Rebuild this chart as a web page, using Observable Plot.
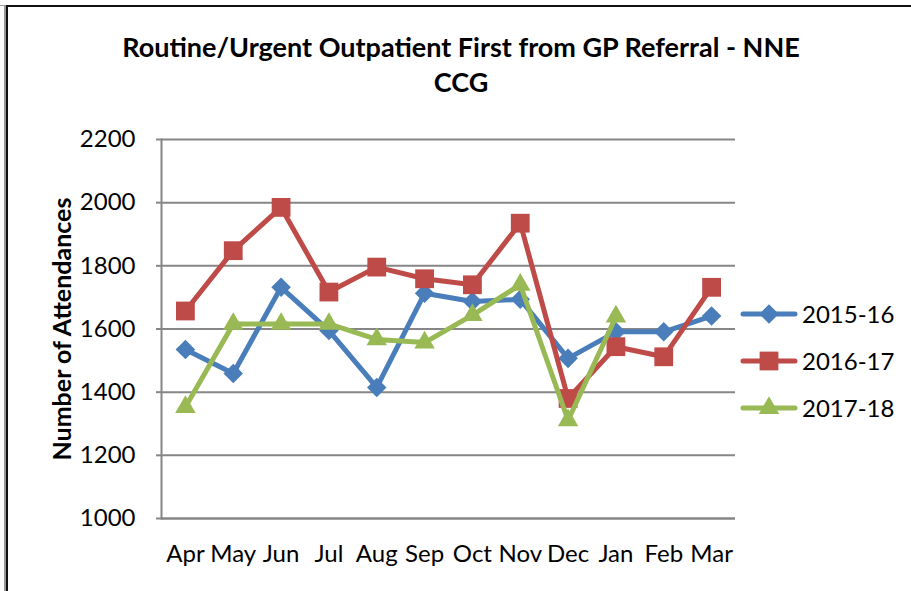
<!DOCTYPE html>
<html>
<head>
<meta charset="utf-8">
<script src="https://cdn.jsdelivr.net/npm/d3@7"></script>
<script src="https://cdn.jsdelivr.net/npm/@observablehq/plot@0.6"></script>
<style>
  html, body { margin: 0; padding: 0; background: #fff; }
  #page { position: relative; width: 911px; height: 591px; overflow: hidden; font-family: Lato, "Open Sans", sans-serif; }
  #chart { position: absolute; left: 0; top: 0; }
  #title { position: absolute; left: 0; width: 922px; top: 29px; text-align: center; font-weight: bold; font-size: 27px; line-height: 35px; color: #000; }
  #legend { position: absolute; left: 740px; top: 290px; }
  .lg-row { display: flex; align-items: center; height: 47px; font-size: 24px; color: #000; }
  .lg-row svg { margin-right: 4px; }
  #bTop { position: absolute; left: 6px; top: 5px; width: 905px; height: 0; border-top: 2px solid #111; }
  #bLeftG { position: absolute; left: 4px; top: 6px; width: 2px; height: 600px; background: #999; }
  #bLeft { position: absolute; left: 6px; top: 5px; width: 2px; height: 600px; background: #111; }
  #bTopG { position: absolute; left: 0px; top: 5px; width: 6px; height: 1px; background: #999; }
</style>
</head>
<body>
<div id="page">
  <div id="bTopG"></div>
  <div id="bTop"></div>
  <div id="bLeftG"></div>
  <div id="bLeft"></div>
  <div id="chart"></div>
  <div id="title">Routine/Urgent Outpatient First from GP Referral - NNE<br>CCG</div>
  <div id="legend"></div>
</div>
<script>
const months = ["Apr","May","Jun","Jul","Aug","Sep","Oct","Nov","Dec","Jan","Feb","Mar"];
const seriesNames = ["2015-16","2016-17","2017-18"];
const values2015 = [1535,1459,1732,1595,1415,1713,1687,1694,1507,1591,1591,1641];
const values2016 = [1657,1848,1985,1717,1796,1759,1740,1935,1380,1544,1512,1732];
const values2017 = [1353,1616,1616,1616,1567,1557,1644,1740,1311,1639,null,null];
const yTicks = [1000,1200,1400,1600,1800,2000,2200];
const colors = ["#4A7EBB","#BE4B48","#98B954"];
const symbols = ["diamond2","square","triangle"];
const radii = [8.8, 10.6, 7.6];

const allValues = [values2015, values2016, values2017];
const data = [];
seriesNames.forEach((s, i) => {
  months.forEach((m, j) => {
    const v = allValues[i][j];
    if (v != null) data.push({series: s, month: m, value: v});
  });
});

const marks = [
  Plot.gridY(yTicks, {stroke: "#868686", strokeOpacity: 1, strokeWidth: 2}),
  Plot.axisY(yTicks, {tickSize: 5, tickPadding: 21, fontSize: 24, stroke: "#868686", strokeWidth: 2, label: null, tickFormat: d => String(d)}),
  Plot.axisX({tickSize: 0, tickPadding: 26, fontSize: 24, label: null}),
  Plot.ruleY([1000], {stroke: "#868686", strokeWidth: 2}),
  Plot.frame({anchor: "left", stroke: "#868686", strokeWidth: 2}),
];
seriesNames.forEach((s, i) => {
  const d = data.filter(r => r.series === s);
  marks.push(Plot.line(d, {x: "month", y: "value", stroke: colors[i], strokeWidth: 5, strokeLinejoin: "round"}));
  marks.push(Plot.dot(d, {x: "month", y: "value", fill: colors[i], r: radii[i], symbol: symbols[i], stroke: "none"}));
});
marks.push(Plot.text(["Number of Attendances"], {
  frameAnchor: "left", textAnchor: "middle", dx: -99, rotate: -90, fontSize: 25, fontWeight: "bold", fill: "#000"
}));

const chart = Plot.plot({
  width: 911,
  height: 591,
  marginLeft: 161,
  marginRight: 176,
  marginTop: 139,
  marginBottom: 73,
  style: {fontFamily: "Lato, 'Open Sans', sans-serif", color: "#000", background: "transparent"},
  x: {type: "point", domain: months, padding: 0.5, round: false},
  y: {domain: [1000, 2200]},
  marks
});
document.getElementById("chart").appendChild(chart);

// Legend
const legend = d3.select("#legend");
const symMap = {diamond2: d3.symbolDiamond2, square: d3.symbolSquare, triangle: d3.symbolTriangle};
seriesNames.forEach((s, i) => {
  const row = legend.append("div").attr("class", "lg-row");
  const svg = row.append("svg").attr("width", 58).attr("height", 30);
  svg.append("line").attr("x1", 3).attr("x2", 55).attr("y1", 15).attr("y2", 15)
    .attr("stroke", colors[i]).attr("stroke-width", 5).attr("stroke-linecap", "round");
  svg.append("path").attr("transform", "translate(29,15)")
    .attr("d", d3.symbol(symMap[symbols[i]], Math.PI * radii[i] * radii[i])())
    .attr("fill", colors[i]);
  row.append("span").text(s);
});
</script>
</body>
</html>
